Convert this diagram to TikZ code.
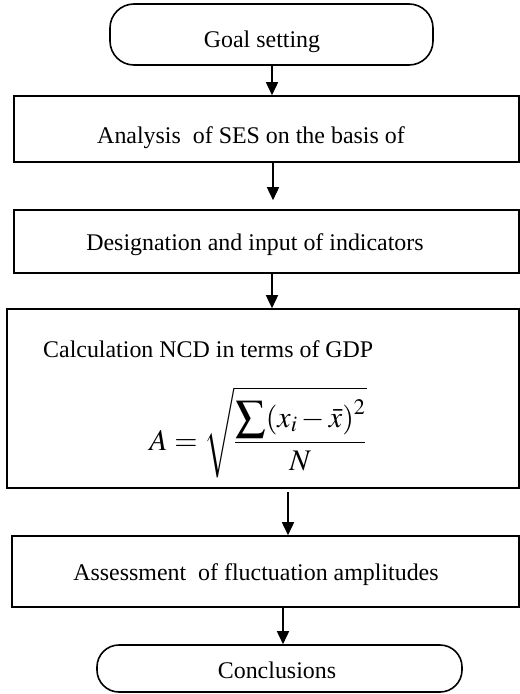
\documentclass[tikz,border=0pt]{standalone}
\usepackage{mathptmx}
\usepackage{fontspec}
\setmainfont{Liberation Serif}
\usetikzlibrary{arrows.meta}
\begin{document}
\begin{tikzpicture}[x=1bp,y=-1bp,
  box/.style={draw, line width=1.6bp, rectangle, inner sep=0pt},
  term/.style={draw, line width=1.6bp, rounded corners=24bp, inner sep=0pt},
  txt/.style={font=\fontsize{24}{28}\selectfont, inner sep=0pt, anchor=base},
  arr/.style={line width=1.6bp, -{Triangle[length=13bp,width=12bp]}}]
\useasboundingbox (0,0) rectangle (520,694);
% shapes
\node[term, minimum width=323bp, minimum height=61bp] (goal) at (271.5,34.5) {};
\node[box, minimum width=505bp, minimum height=66bp] (b1) at (266.5,129) {};
\node[box, minimum width=505bp, minimum height=63bp] (b2) at (266.5,241.5) {};
\node[box, minimum width=512bp, minimum height=179bp] (b3) at (263,398.5) {};
\node[box, minimum width=507bp, minimum height=71bp] (b4) at (265.5,571.5) {};
\node[term, rounded corners=22bp, minimum width=365bp, minimum height=47bp] (concl) at (279.5,668.5) {};
% texts
\node[txt] (t0) at (262,48) {Goal setting};
\node[txt] (t1) at (251,143) {Analysis\ \ of SES on the basis of};
\node[txt] (t2) at (255,250) {Designation and input of indicators};
\node[txt, anchor=base west] (t3) at (43,357) {Calculation NCD in terms of GDP};
\node[inner sep=0pt, anchor=base, font=\fontsize{30}{36}\selectfont] (f) at (258,450)
  {$\displaystyle A=\sqrt{\frac{\displaystyle\sum(x_i-\bar{x})^2}{N}}$};
\node[txt] (t4) at (256,580) {Assessment\ \ of fluctuation amplitudes};
\node[txt] (t5) at (277,678) {Conclusions};
% arrows
\coordinate (ca) at (272,0);
\coordinate (cb) at (273,0);
\coordinate (cc) at (272,0);
\coordinate (cd) at (288,0);
\coordinate (ce) at (283,0);
\draw[arr] (goal.south -| ca) -- (b1.north -| ca);
\draw[arr, shorten >=9bp] (b1.south -| cb) -- (b2.north -| cb);
\draw[arr] (b2.south -| cc) -- (b3.north -| cc);
\draw[arr, shorten <=3bp] (b3.south -| cd) -- (b4.north -| cd);
\draw[arr] (b4.south -| ce) -- (concl.north -| ce);
\end{tikzpicture}
\end{document}
